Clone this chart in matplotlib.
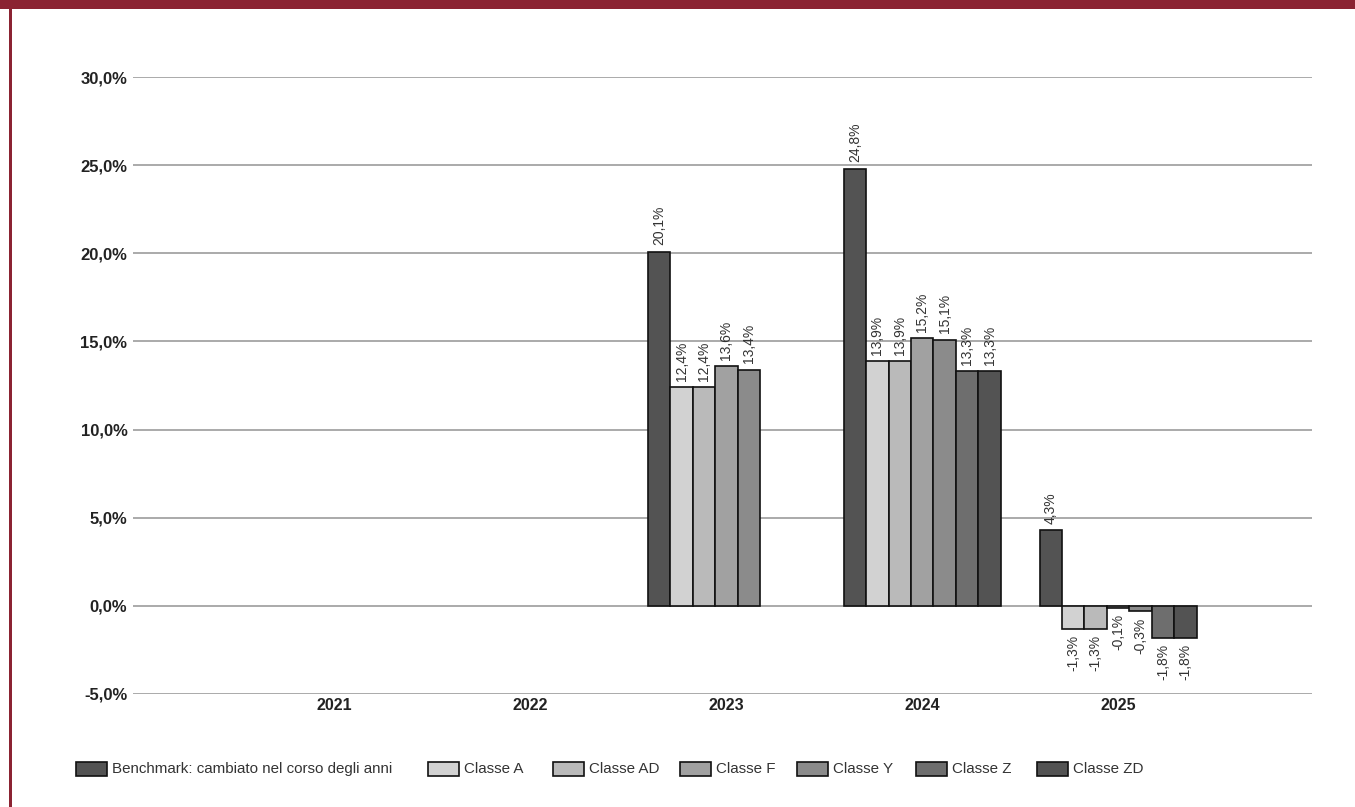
import matplotlib.pyplot as plt
import matplotlib.patches as mpatches
import numpy as np

plt.rcParams['font.family'] = ['Liberation Sans', 'DejaVu Sans']

# Data
years = ['2021', '2022', '2023', '2024', '2025']
series = ['Benchmark: cambiato nel corso degli anni', 'Classe A', 'Classe AD',
          'Classe F', 'Classe Y', 'Classe Z', 'Classe ZD']
benchmark = [None, None, 20.1, 24.8, 4.3]
classe_a = [None, None, 12.4, 13.9, -1.3]
classe_ad = [None, None, 12.4, 13.9, -1.3]
classe_f = [None, None, 13.6, 15.2, -0.1]
classe_y = [None, None, 13.4, 15.1, -0.3]
classe_z = [None, None, None, 13.3, -1.8]
classe_zd = [None, None, None, 13.3, -1.8]
values = [benchmark, classe_a, classe_ad, classe_f, classe_y, classe_z, classe_zd]
colors = ['#535353', '#d2d2d2', '#bababa', '#a1a1a1', '#8b8b8b', '#6e6e6e', '#535353']
yticks = [-5, 0, 5, 10, 15, 20, 25, 30]

fig = plt.figure(figsize=(13.55, 8.07), dpi=100)
W, H = 1355, 807
ax = fig.add_axes([133 / W, 1 - 694 / H, (1312 - 133) / W, (694 - 77) / H])

x = np.arange(len(years))
bw = 0.1145
for i, (vals, col) in enumerate(zip(values, colors)):
    off = (i - 3) * bw
    for j, v in enumerate(vals):
        if v is None:
            continue
        ax.bar(x[j] + off, v, width=bw, color=col, edgecolor='#111111',
               linewidth=1.2, zorder=3)
        lab = f'{v:.1f}%'.replace('.', ',')
        if v >= 0:
            ax.text(x[j] + off, v + 0.35, lab, rotation=90, ha='center', va='bottom',
                    fontsize=10, color='#333333')
        else:
            ax.text(x[j] + off, v - 0.35, lab, rotation=90, ha='center', va='top',
                    fontsize=10, color='#333333')

ax.set_xlim(-1.03, 4.99)
ax.set_ylim(-5, 30)
ax.set_yticks(yticks)
ax.set_yticklabels([f'{t:.1f}%'.replace('.', ',') for t in yticks],
                   fontsize=12, fontweight='bold', color='#222222')
ax.set_xticks(x)
ax.set_xticklabels(years, fontsize=11.5, fontweight='bold', color='#222222')
ax.tick_params(axis='both', length=0, pad=4)
ax.tick_params(axis='x', pad=3)
ax.grid(axis='y', color='#9c9c9c', linewidth=1.2, zorder=0)
for s in ax.spines.values():
    s.set_visible(False)

# legend drawn by hand so each entry sits where the original has it
leg_x = [76, 428, 553, 680, 797, 916, 1037]  # handle left edge, px
for lx, name, col in zip(leg_x, series, colors):
    fig.add_artist(mpatches.Rectangle((lx / W, 1 - 776 / H), 31 / W, 14 / H,
                                      transform=fig.transFigure, facecolor=col,
                                      edgecolor='#111111', linewidth=1.2))
    fig.text((lx + 36) / W, 1 - 769 / H, name, fontsize=10.9, color='#333333',
             ha='left', va='center')

# frame
fig.add_artist(mpatches.Rectangle((0, 1 - 9 / H), 1, 9 / H, transform=fig.transFigure,
                                  facecolor='#8b2332', edgecolor='none'))
fig.add_artist(mpatches.Rectangle((9 / W, 0), 2.5 / W, 1, transform=fig.transFigure,
                                  facecolor='#8b2332', edgecolor='none'))

fig.savefig('out.png', dpi=100)
